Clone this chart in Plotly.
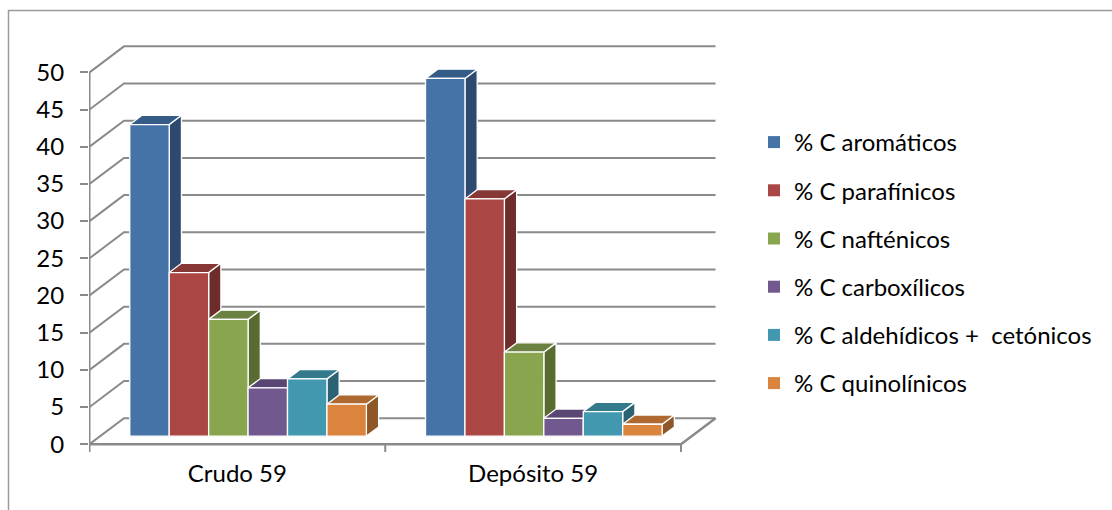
import plotly.graph_objects as go

# ---- data -------------------------------------------------------------
categories = ["Crudo 59", "Depósito 59"]
series_names = [
    "% C aromáticos",
    "% C parafínicos",
    "% C nafténicos",
    "% C carboxílicos",
    "% C aldehídicos + \u00a0cetónicos",
    "% C quinolínicos",
]
aromaticos = [41.9, 48.1]
parafinicos = [22.0, 31.9]
naftenicos = [15.7, 11.3]
carboxilicos = [6.5, 2.4]
aldehidicos_cetonicos = [7.7, 3.3]
quinolinicos = [4.3, 1.6]
y_ticks = [0, 5, 10, 15, 20, 25, 30, 35, 40, 45, 50]

series_values = [aromaticos, parafinicos, naftenicos,
                 carboxilicos, aldehidicos_cetonicos, quinolinicos]

# front / side / top shades for each series
front_colors = ["#4572a7", "#aa4643", "#89a54e", "#71588f", "#4198af", "#db843d"]
side_colors = ["#2d4a6e", "#6e2c2b", "#5a6b32", "#4a3a5e", "#2b6373", "#8f5628"]
top_colors = ["#355b87", "#873735", "#6b8240", "#5a4672", "#337a8c", "#ad6930"]

# ---- geometry ---------------------------------------------------------
W_FIG, H_FIG = 1112, 510
L, T, W, H = 89, 43, 630, 413
PX_X = 295.75          # pixels per category
PX_Y = 7.437           # pixels per value unit
Y0_PX = 444.2          # pixel row of value 0 on the front plane
DEPTH_PX = (34.5, 26.0)

DX = DEPTH_PX[0] / PX_X
DY = DEPTH_PX[1] / PX_Y

x_lo = -0.5 / PX_X
x_range = [x_lo, x_lo + W / PX_X]
y_range = [-(T + H - Y0_PX) / PX_Y, (Y0_PX - T) / PX_Y]

GAP_WIDTH = 1.5
n_series = len(series_values)
BW = 1.0 / (n_series + GAP_WIDTH)
SIDE_GAP = GAP_WIDTH * BW / 2
D0, D1 = 0.31, 0.665
Y_MAX = y_ticks[-1]
TICK_DROP = 1.05

GRID = "#8a8a8a"


def proj(x, v, d):
    return x + d * DX, v + d * DY


def poly(points):
    xs, ys = zip(*[proj(*p) for p in points])
    return list(xs) + [xs[0]], list(ys) + [ys[0]]


fig = go.Figure()


def add_line(points, width=2, color=GRID):
    xs, ys = zip(*[proj(*p) for p in points])
    fig.add_trace(go.Scatter(x=list(xs), y=list(ys), mode="lines",
                             line=dict(color=color, width=width),
                             hoverinfo="skip", showlegend=False))


def add_face(points, color, edge="white", edge_w=1.3):
    xs, ys = poly(points)
    fig.add_trace(go.Scatter(x=xs, y=ys, mode="lines", fill="toself",
                             fillcolor=color,
                             line=dict(color=edge, width=edge_w),
                             hoverinfo="skip", showlegend=False))


n_cat = len(categories)

# floor
add_face([(0, 0, 0), (n_cat, 0, 0), (n_cat, 0, 1), (0, 0, 1)], "white",
         edge="rgba(0,0,0,0)", edge_w=0)

# back wall gridlines with their left-wall diagonals
for t in y_ticks:
    add_line([(0, t, 0), (0, t, 1), (n_cat, t, 1)])

# floor edges, front value axis and category separators
add_line([(0, 0, 0), (n_cat, 0, 0), (n_cat, 0, 1)], width=2.5)
add_line([(0, -TICK_DROP, 0), (0, Y_MAX, 0)])
for c in range(1, n_cat + 1):
    add_line([(c, -TICK_DROP, 0), (c, 0, 0)])

# 3-D columns, drawn left to right so each front face hides its neighbour's side
for j in range(n_cat):
    for i, vals in enumerate(series_values):
        v = vals[j]
        xl = j + SIDE_GAP + i * BW
        xr = xl + BW
        add_face([(xr, 0, D0), (xr, 0, D1), (xr, v, D1), (xr, v, D0)], side_colors[i])
        add_face([(xl, v, D0), (xr, v, D0), (xr, v, D1), (xl, v, D1)], top_colors[i])
        add_face([(xl, 0, D0), (xr, 0, D0), (xr, v, D0), (xl, v, D0)], front_colors[i])

# legend entries
for i, name in enumerate(series_names):
    fig.add_trace(go.Scatter(x=[None], y=[None], mode="markers", name=name,
                             legendgroup=f"g{i}",
                             marker=dict(symbol="square", size=12,
                                         color=front_colors[i])))

FONT = "Lato"
FS = 24


def px_to_paper_x(px):
    return (px - L) / W


def px_to_paper_y(py):
    return 1 - (py - T) / H


# outer frame (top and left edges visible)
fig.add_shape(type="path", xref="paper", yref="paper",
              path=(f"M {px_to_paper_x(8.5)} {px_to_paper_y(520)} "
                    f"L {px_to_paper_x(8.5)} {px_to_paper_y(10.5)} "
                    f"L {px_to_paper_x(1120)} {px_to_paper_y(10.5)}"),
              line=dict(color="#9a9a9a", width=1.5))

fig.update_layout(
    width=W_FIG, height=H_FIG,
    margin=dict(l=L, r=W_FIG - L - W, t=T, b=H_FIG - T - H),
    paper_bgcolor="white", plot_bgcolor="white",
    font=dict(family=FONT, size=FS, color="black"),
    xaxis=dict(range=x_range, showgrid=False, zeroline=False, showline=False,
               tickvals=[j + 0.5 for j in range(n_cat)], ticktext=categories,
               ticks="", ticklabelstandoff=1, fixedrange=True),
    yaxis=dict(range=y_range, showgrid=False, zeroline=False, showline=False,
               tickvals=y_ticks, ticks="outside", ticklen=8, tickwidth=2,
               tickcolor=GRID, ticklabelstandoff=11, fixedrange=True),
    showlegend=True,
    legend=dict(x=px_to_paper_x(754), y=px_to_paper_y(120),
                xanchor="left", yanchor="top",
                traceorder="grouped", tracegroupgap=14,
                font=dict(family=FONT, size=FS, color="black"),
                bgcolor="rgba(0,0,0,0)"),
)

fig.write_html("out.html")
